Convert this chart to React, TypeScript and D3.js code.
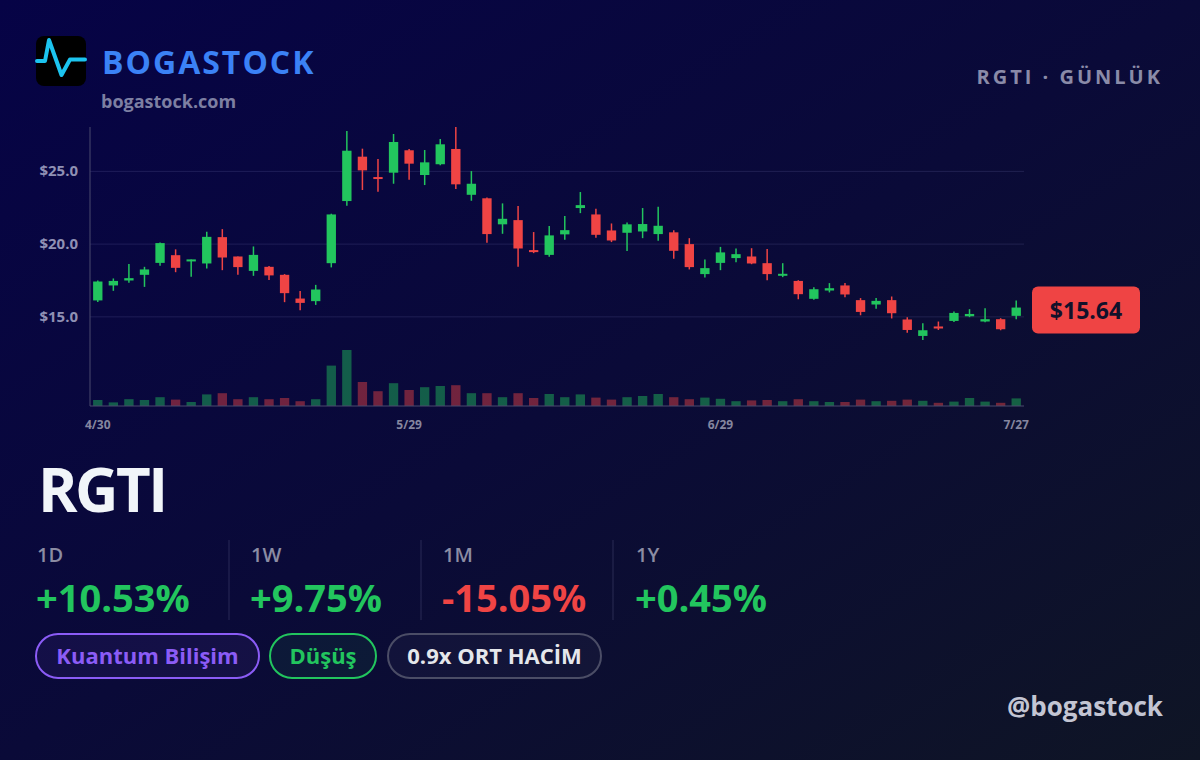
import React from 'react';
import * as d3 from 'd3';

// daily candles, 4/30 -> 7/27
const opens = [
  16.13, 17.16, 17.5, 17.89, 18.71, 19.24, 18.81, 18.67, 20.48, 19.15,
  18.16, 18.44, 17.89, 16.26, 16.08, 18.69, 22.96, 26.01, 24.61, 24.91,
  26.45, 24.75, 25.49, 26.54, 23.39, 23.15, 21.36, 21.65, 19.59, 19.26,
  20.67, 22.48, 22.04, 20.94, 20.78, 20.87, 20.69, 20.81, 20.0, 17.94,
  18.71, 19.04, 19.15, 18.69, 17.85, 17.47, 16.24, 16.81, 17.16, 16.15,
  15.85, 16.15, 14.82, 13.69, 14.34, 14.72, 15.04, 14.68, 14.84, 15.07,
];
const highs = [
  17.5, 17.64, 18.64, 18.44, 20.12, 19.64, 18.95, 20.85, 21.03, 19.15,
  19.84, 18.49, 17.94, 16.77, 17.2, 22.09, 27.78, 26.56, 25.85, 27.57,
  26.54, 26.47, 27.23, 28.05, 25.02, 23.21, 22.8, 22.62, 20.83, 21.24,
  21.93, 23.58, 22.43, 21.42, 21.49, 22.48, 22.57, 20.96, 20.41, 18.95,
  19.81, 19.7, 19.72, 19.66, 18.69, 17.52, 17.04, 17.32, 17.32, 16.29,
  16.29, 16.4, 14.98, 14.56, 14.68, 15.37, 15.53, 15.6, 14.91, 16.13,
];
const lows = [
  16.03, 16.79, 17.34, 17.06, 18.51, 18.07, 17.75, 18.33, 18.21, 17.89,
  17.82, 17.54, 16.01, 15.46, 15.82, 18.4, 22.64, 23.72, 23.6, 24.15,
  24.43, 24.06, 25.42, 23.79, 22.98, 20.09, 20.71, 18.44, 19.38, 19.13,
  20.3, 22.13, 20.43, 20.14, 19.52, 20.41, 20.23, 18.99, 18.26, 17.71,
  18.21, 18.76, 18.62, 17.52, 17.73, 16.21, 16.17, 16.68, 16.35, 15.11,
  15.55, 14.89, 13.9, 13.41, 14.1, 14.65, 14.98, 14.63, 14.08, 14.84,
];
const closes = [
  17.43, 17.47, 17.66, 18.26, 20.07, 18.37, 18.95, 20.5, 19.08, 18.42,
  19.26, 17.85, 16.63, 15.96, 16.88, 22.04, 26.42, 25.07, 24.49, 27.02,
  25.53, 25.62, 26.86, 24.11, 24.15, 20.69, 21.74, 19.7, 19.45, 20.6,
  20.96, 22.68, 20.64, 20.25, 21.36, 21.38, 21.26, 19.54, 18.42, 18.35,
  19.43, 19.31, 18.67, 17.94, 17.96, 16.56, 16.9, 16.97, 16.54, 15.34,
  16.1, 15.25, 14.1, 14.08, 14.2, 15.27, 15.2, 14.84, 14.15, 15.64,
];
// volume, millions
const volumes = [
  15, 9, 17, 15, 22, 16, 10, 29, 32, 17,
  22, 17, 20, 12, 17, 101, 140, 60, 37, 57,
  40, 47, 50, 52, 32, 32, 22, 32, 20, 30,
  22, 29, 21, 16, 22, 25, 30, 22, 17, 21,
  18, 12, 14, 15, 12, 17, 12, 10, 10, 16,
  12, 13, 16, 13, 8, 11, 20, 11, 8, 19,
];

const xTickLabels = ['4/30', '5/29', '6/29', '7/27'];
const xTickIndex = [0, 20, 40, 59];
const yTicks = [15, 20, 25];

const statLabels = ['1D', '1W', '1M', '1Y'];
const statValues = ['+10.53%', '+9.75%', '-15.05%', '+0.45%'];

const GREEN = '#22c55e';
const RED = '#ef4444';
const FONT = '"Open Sans", "Noto Sans", sans-serif';

const left = 90, right = 1024, top = 127, bottom = 406;

export default function App() {
  const idx = d3.range(closes.length);
  const x = d3.scaleBand<number>().domain(idx).range([left, right]).paddingInner(0.4).paddingOuter(0.2);
  const y = d3.scaleLinear().domain([d3.min(lows)!, d3.max(highs)!]).range([340, top]);
  const v = d3.scaleLinear().domain([0, d3.max(volumes)!]).range([bottom, 350]);
  const bw = x.bandwidth();
  const last = closes[closes.length - 1];

  const statX = [37, 251, 443, 636];
  const sepX = [229, 421, 613];

  const pills = [
    { text: 'Kuantum Bilişim', x: 36, w: 223, color: '#8b5cf6', text2: '#8b5cf6', fill: 'rgba(139,92,246,0.08)' },
    { text: 'Düşüş', x: 270, w: 106, color: GREEN, text2: GREEN, fill: 'rgba(34,197,94,0.08)' },
    { text: '0.9x ORT HACİM', x: 388, w: 213, color: '#4b4d66', text2: '#e5e7eb', fill: 'rgba(255,255,255,0.03)' },
  ];

  return (
    <svg width={1200} height={760} style={{ position: 'absolute', left: 0, top: 0, display: 'block' }} fontFamily={FONT}>
      <defs>
        <linearGradient id="bg" x1="0" y1="0" x2="1" y2="1">
          <stop offset="0" stopColor="#060346" />
          <stop offset="0.5" stopColor="#0a0a38" />
          <stop offset="1" stopColor="#0f1525" />
        </linearGradient>
      </defs>
      <rect width={1200} height={760} fill="url(#bg)" />

      {/* header */}
      <rect x={36} y={36} width={50} height={50} rx={8} fill="#000" />
      <polyline
        points="37,61 45,61 49,40 61.5,75 70,59.5 85,59.5"
        fill="none" stroke="#1cc4ef" strokeWidth={4} strokeLinejoin="round" strokeLinecap="round"
      />
      <text x={102} y={74} fontSize={32} fontWeight={700} fill="#3b82f6" letterSpacing={2}>BOGASTOCK</text>
      <text x={101} y={108} fontSize={18} fontWeight={700} fill="#7d7fa2">bogastock.com</text>
      <text x={1163} y={84} fontSize={20} fontWeight={700} fill="#8a8ba8" letterSpacing={3} textAnchor="end">RGTI · GÜNLÜK</text>

      {/* grid */}
      {yTicks.map(t => (
        <g key={t}>
          <line x1={left} x2={right} y1={y(t)} y2={y(t)} stroke="rgba(150,150,220,0.16)" strokeWidth={1} />
          <text x={78} y={y(t) + 5} fontSize={15} fontWeight={700} fill="#8f90b4" textAnchor="end">${t.toFixed(1)}</text>
        </g>
      ))}

      {/* volume */}
      {idx.map(i => (
        <rect key={'v' + i} x={x(i)} y={v(volumes[i])} width={bw} height={bottom - v(volumes[i])}
          fill={closes[i] >= opens[i] ? GREEN : RED} opacity={0.45} />
      ))}

      {/* candles */}
      {idx.map(i => {
        const up = closes[i] >= opens[i];
        const c = up ? GREEN : RED;
        const cx = x(i)! + bw / 2;
        const yt = y(Math.max(opens[i], closes[i]));
        const yb = y(Math.min(opens[i], closes[i]));
        return (
          <g key={'c' + i}>
            <line x1={cx} x2={cx} y1={y(highs[i])} y2={y(lows[i])} stroke={c} strokeWidth={1.5} />
            <rect x={x(i)} y={yt} width={bw} height={Math.max(2, yb - yt)} fill={c} />
          </g>
        );
      })}

      {/* axes */}
      <line x1={left} x2={left} y1={top} y2={bottom} stroke="#4a4b6e" strokeWidth={1} />
      <line x1={left} x2={right} y1={bottom} y2={bottom} stroke="#4a4b6e" strokeWidth={1} />
      {xTickIndex.map((ti, k) => (
        <text key={ti} x={x(ti)! + bw / 2} y={429} fontSize={12} fontWeight={700} fill="#85869f" textAnchor="middle">{xTickLabels[k]}</text>
      ))}

      {/* last price badge */}
      <rect x={1032} y={y(last) - 21} width={108} height={47} rx={6} fill={RED} />
      <text x={1086} y={y(last) + 11} fontSize={23} fontWeight={700} fill="#12112a" textAnchor="middle">${last.toFixed(2)}</text>

      {/* ticker */}
      <text x={38} y={512} fontSize={60} fontWeight={700} fill="#f1f5f9" letterSpacing={-2.5}>RGTI</text>

      {statLabels.map((l, k) => (
        <g key={l}>
          <text x={statX[k]} y={562} fontSize={20} fontWeight={600} fill="#8b8ca3">{l}</text>
          <text x={statX[k] - 1} y={612} fontSize={38} fontWeight={700} fill={statValues[k].startsWith('-') ? RED : GREEN}>{statValues[k]}</text>
        </g>
      ))}
      {sepX.map(s => (
        <line key={s} x1={s} x2={s} y1={540} y2={620} stroke="rgba(160,160,200,0.22)" strokeWidth={1} />
      ))}

      {pills.map(p => (
        <g key={p.text}>
          <rect x={p.x} y={634} width={p.w} height={44} rx={22} fill={p.fill} stroke={p.color} strokeWidth={2} />
          <text x={p.x + p.w / 2} y={664} fontSize={22} fontWeight={700} fill={p.text2} textAnchor="middle">{p.text}</text>
        </g>
      ))}

      <text x={1163} y={716} fontSize={26} fontWeight={700} fill="#c3c5d3" textAnchor="end">@bogastock</text>
    </svg>
  );
}
